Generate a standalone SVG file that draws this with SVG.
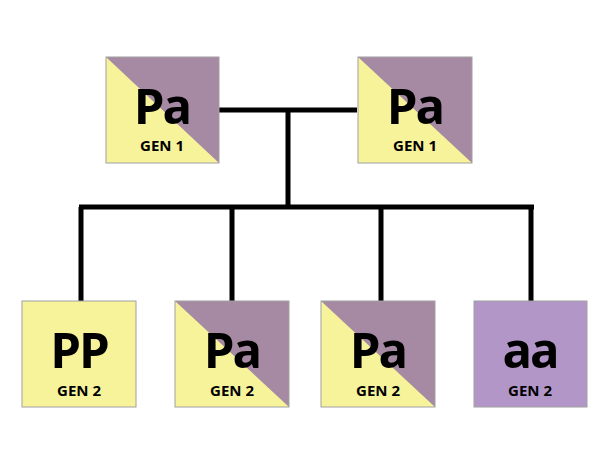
<svg xmlns="http://www.w3.org/2000/svg" width="612" height="460" viewBox="0 0 612 460">
<defs>
<style>
.box{stroke:#a0a0a0;stroke-width:1}
.y{fill:#f7f39b}
.p{fill:#a68aa3}
.v{fill:#b396c8}
.big{font-family:"Open Sans","Noto Sans",sans-serif;font-weight:700;font-size:49px;fill:#000;text-anchor:middle;letter-spacing:-2px}
.gen{font-family:"Open Sans","Noto Sans",sans-serif;font-weight:700;font-size:15px;fill:#000;text-anchor:middle}
.ln{stroke:#000;stroke-width:5;fill:none}
</style>
</defs>
<rect width="612" height="460" fill="#fff"/>
<g id="connectors">
<path class="ln" d="M219,110 H357 M288,110 V207 M79,207 H534 M81,207 V301 M232,207 V301 M381,207 V301 M531,207 V301"/>
</g>
<g id="gen1a">
<rect class="y" x="106" y="57" width="113" height="106"/>
<polygon class="p" points="106,57 219,57 219,163"/>
<rect class="box" x="106" y="57" width="113" height="106" fill="none"/>
<text class="big" x="162" y="124">Pa</text>
<text class="gen" x="162" y="151">GEN 1</text>
</g>
<g id="gen1b">
<rect class="y" x="358" y="57" width="114" height="106"/>
<polygon class="p" points="358,57 472,57 472,163"/>
<rect class="box" x="358" y="57" width="114" height="106" fill="none"/>
<text class="big" x="415" y="124">Pa</text>
<text class="gen" x="415" y="151">GEN 1</text>
</g>
<g id="gen2PP">
<rect class="y box" x="22" y="301" width="114" height="106"/>
<text class="big" x="79" y="368">PP</text>
<text class="gen" x="79" y="396">GEN 2</text>
</g>
<g id="gen2Pa1">
<rect class="y" x="175" y="301" width="114" height="106"/>
<polygon class="p" points="175,301 289,301 289,407"/>
<rect class="box" x="175" y="301" width="114" height="106" fill="none"/>
<text class="big" x="232" y="368">Pa</text>
<text class="gen" x="232" y="396">GEN 2</text>
</g>
<g id="gen2Pa2">
<rect class="y" x="321" y="301" width="114" height="106"/>
<polygon class="p" points="321,301 435,301 435,407"/>
<rect class="box" x="321" y="301" width="114" height="106" fill="none"/>
<text class="big" x="378" y="368">Pa</text>
<text class="gen" x="378" y="396">GEN 2</text>
</g>
<g id="gen2aa">
<rect class="v box" x="474" y="301" width="113" height="106"/>
<text class="big" x="530" y="368">aa</text>
<text class="gen" x="530" y="396">GEN 2</text>
</g>
</svg>
